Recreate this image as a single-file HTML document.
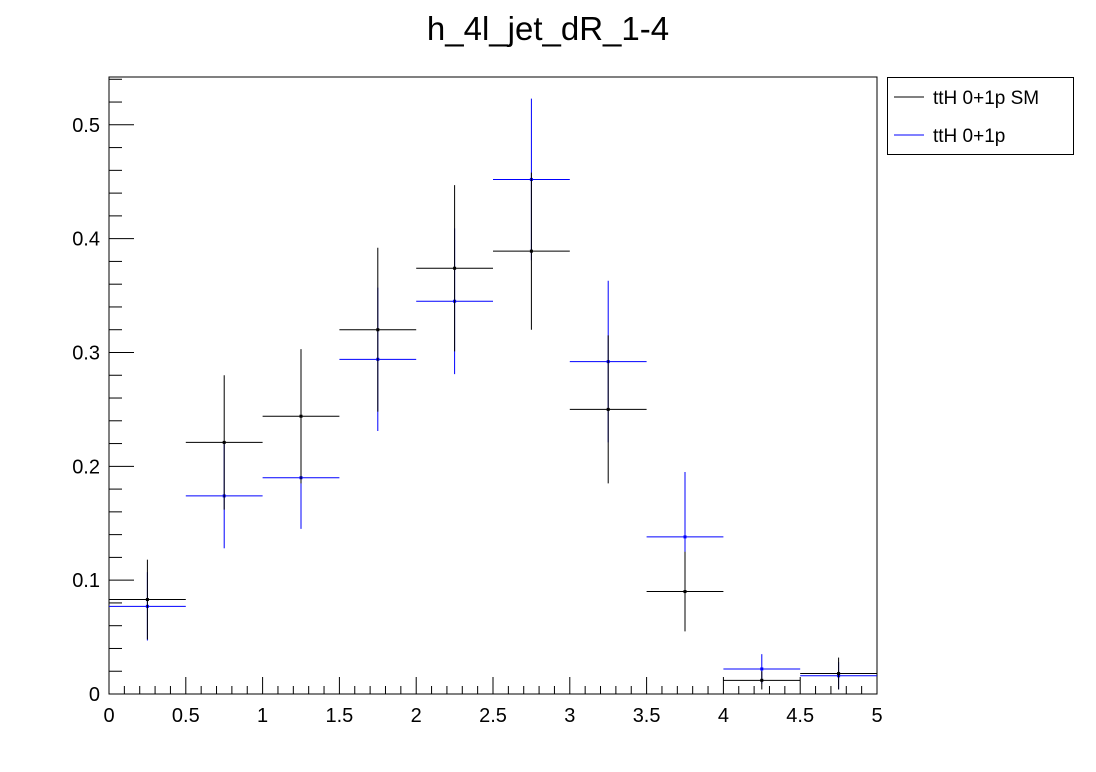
<!DOCTYPE html>
<html><head><meta charset="utf-8"><style>
body{margin:0;background:#fff;}
svg{display:block;font-family:"Liberation Sans",sans-serif;}
</style></head><body>
<svg id="chart" width="1096" height="772" xmlns="http://www.w3.org/2000/svg">
<rect width="1096" height="772" fill="#fff"/>
<text x="548" y="40" font-size="33" text-anchor="middle">h_4l_jet_dR_1-4</text>
<rect x="109" y="77" width="768" height="617" fill="none" stroke="#000" stroke-width="1"/>
<g id="axes"></g>
<g id="series"></g>
<g>
<rect x="887.5" y="77.5" width="186" height="77" fill="#fff" stroke="#000"/>
<line x1="894" y1="97" x2="924" y2="97" stroke="#000"/>
<text x="933" y="104" font-size="19">ttH 0+1p SM</text>
<line x1="894" y1="135" x2="924" y2="135" stroke="#0000ff"/>
<text x="933" y="142" font-size="19">ttH 0+1p</text>
</g>
</svg>
<script>
const binEdges=[0,0.5,1,1.5,2,2.5,3,3.5,4,4.5,5];
const smValues=[0.083,0.221,0.244,0.320,0.374,0.389,0.250,0.090,0.012,0.018];
const smErrors=[0.035,0.059,0.059,0.072,0.073,0.069,0.065,0.035,0.008,0.014];
const bsmValues=[0.077,0.174,0.190,0.294,0.345,0.452,0.292,0.138,0.022,0.016];
const bsmErrors=[0.030,0.046,0.045,0.063,0.064,0.071,0.071,0.057,0.013,0.012];
const xTickLabels=["0","0.5","1","1.5","2","2.5","3","3.5","4","4.5","5"];
const yTickLabels=["0","0.1","0.2","0.3","0.4","0.5"];

const X0=109,X1=877,Y0=694,YTOP=77,XMAX=5,YMAX=0.542;
const sx=v=>X0+(v/XMAX)*(X1-X0);
const sy=v=>Y0-(v/YMAX)*(Y0-YTOP);
const NS="http://www.w3.org/2000/svg";
function mk(tag,attrs,parent){const e=document.createElementNS(NS,tag);for(const k in attrs)e.setAttribute(k,attrs[k]);parent.appendChild(e);return e;}
const axes=document.getElementById('axes');
// x ticks
for(let i=0;i<=50;i++){
  const v=i*0.1;const major=i%5===0;const x=sx(v);
  const t=mk('line',{x1:x,x2:x,y1:Y0,y2:Y0-(major?17:8),stroke:'#000'},axes);
  
  
}
xTickLabels.forEach(l=>{
  const t=mk('text',{x:sx(parseFloat(l)),y:722,'font-size':20,'text-anchor':'middle'},axes);
  t.textContent=l;
  
  
});
// y ticks
for(let i=0;i*0.02<=YMAX+1e-9;i++){
  const v=i*0.02;const major=i%5===0;const y=sy(v);
  const t=mk('line',{x1:X0,x2:X0+(major?25:13),y1:y,y2:y,stroke:'#000'},axes);
  
  
}
yTickLabels.forEach(l=>{
  const t=mk('text',{x:100,y:sy(parseFloat(l))+7,'font-size':20,'text-anchor':'end'},axes);
  t.textContent=l;
  
  
});
const series=document.getElementById('series');
function draw(vals,errs,color,name){
  vals.forEach((v,i)=>{
    const g=mk('g',{},series);
    
    
    const xa=sx(binEdges[i]),xb=sx(binEdges[i+1]),xc=(xa+xb)/2,y=sy(v);
    mk('line',{x1:xa,x2:xb,y1:y,y2:y,stroke:color},g);
    mk('line',{x1:xc,x2:xc,y1:sy(v+errs[i]),y2:sy(Math.max(0,v-errs[i])),stroke:color},g);
    mk('rect',{x:xc-1.5,y:y-1.5,width:3,height:3,fill:color},g);
  });
}
draw(bsmValues,bsmErrors,'#0000ff','bsm');
draw(smValues,smErrors,'#000000','sm');
</script>
</body></html>
